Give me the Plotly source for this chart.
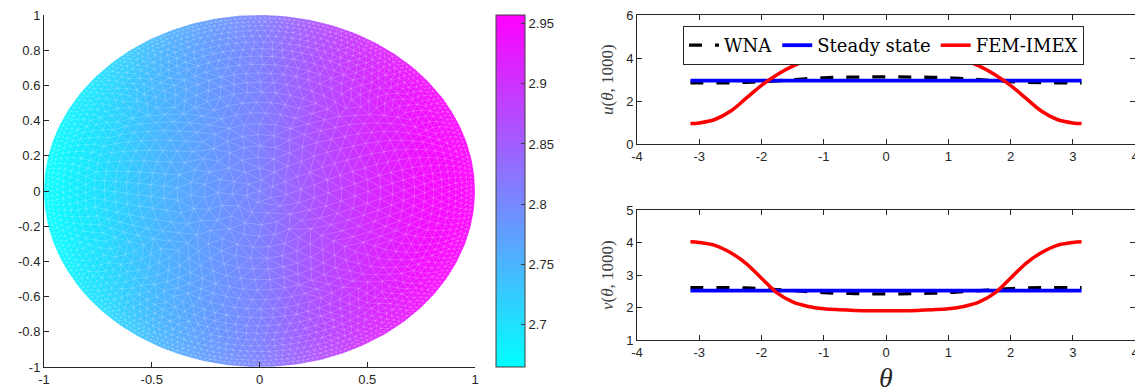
import numpy as np
import plotly.graph_objects as go

# ---------------- data ----------------
# Left panel: field value read along x (nearly constant in y)
field_x = [-1.0, -0.75, -0.5, -0.25, 0.0, 0.25, 0.5, 0.75, 1.0]
field_val = [2.665, 2.700, 2.744, 2.778, 2.810, 2.862, 2.907, 2.940, 2.957]
cbar_ticks = [2.7, 2.75, 2.8, 2.85, 2.9, 2.95]
cbar_labels = ["2.7", "2.75", "2.8", "2.85", "2.9", "2.95"]
left_xticks = [-1, -0.5, 0, 0.5, 1]
left_xlabels = ["-1", "-0.5", "0", "0.5", "1"]
left_yticks = [-1, -0.8, -0.6, -0.4, -0.2, 0, 0.2, 0.4, 0.6, 0.8, 1]
left_ylabels = ["-1", "-0.8", "-0.6", "-0.4", "-0.2", "0", "0.2", "0.4", "0.6", "0.8", "1"]

# Right panels
theta = [-3.1416, -3.0, -2.75, -2.5, -2.25, -2.0, -1.75, -1.5, -1.25, -1.0, -0.75, -0.5, -0.25, 0.0,
         0.25, 0.5, 0.75, 1.0, 1.25, 1.5, 1.75, 2.0, 2.25, 2.5, 2.75, 3.0, 3.1416]
u_fem = [0.95, 0.98, 1.14, 1.52, 2.12, 2.73, 3.22, 3.62, 3.90, 4.06, 4.13, 4.16, 4.17, 4.17,
         4.17, 4.16, 4.13, 4.06, 3.90, 3.62, 3.22, 2.73, 2.12, 1.52, 1.14, 0.98, 0.95]
u_wna = [2.84, 2.84, 2.84, 2.85, 2.87, 2.90, 2.94, 2.99, 3.04, 3.08, 3.10, 3.11, 3.12, 3.12,
         3.12, 3.11, 3.10, 3.08, 3.04, 2.99, 2.94, 2.90, 2.87, 2.85, 2.84, 2.84, 2.84]
v_fem = [4.02, 4.00, 3.91, 3.69, 3.36, 2.90, 2.45, 2.17, 2.03, 1.96, 1.93, 1.91, 1.90, 1.90,
         1.90, 1.91, 1.93, 1.96, 2.03, 2.17, 2.45, 2.90, 3.36, 3.69, 3.91, 4.00, 4.02]
v_wna = [2.61, 2.61, 2.61, 2.61, 2.60, 2.58, 2.55, 2.52, 2.49, 2.46, 2.44, 2.43, 2.42, 2.42,
         2.42, 2.43, 2.44, 2.46, 2.49, 2.52, 2.55, 2.58, 2.60, 2.61, 2.61, 2.61, 2.61]
theta_ss = [-3.1416, 3.1416]
u_ss = [2.95, 2.95]
v_ss = [2.52, 2.52]
right_xticks = [-4, -3, -2, -1, 0, 1, 2, 3, 4]
right_xlabels = ["-4", "-3", "-2", "-1", "0", "1", "2", "3", "4"]
u_yticks = [0, 2, 4, 6]
u_ylabels = ["0", "2", "4", "6"]
v_yticks = [1, 2, 3, 4, 5]
v_ylabels = ["1", "2", "3", "4", "5"]

# ---------------- geometry helpers ----------------
# the page body has an 8px margin: the figure is placed at (8, 8) in the window
OFF = 8
W, H = 1143 - OFF, 392 - OFF
def px_x(p):
    return (p - OFF) / W
def px_y(p):
    return (392 - p) / H

TICKFONT = dict(family="Liberation Sans, Arial, sans-serif", size=13, color="#262626")
SERIF = "DejaVu Serif, Liberation Serif, serif"
SERIF2 = "Liberation Serif, Times New Roman, serif"


def mesh_segments():
    def hsize(r):
        return 0.075 - 0.055 * r ** 3
    radii = [0.0]
    r = 0.0
    while r < 1.0:
        r += hsize(r) * 0.87
        radii.append(r)
    radii = np.array(radii) / radii[-1]
    rings = []
    for k, r in enumerate(radii):
        if k == 0:
            rings.append(np.array([0.0]))
            continue
        n = max(6, int(round(2 * np.pi * r / hsize(r))))
        off = ((k * 0.37) % 1.0) * 2 * np.pi / n
        rings.append(off + np.arange(n) * 2 * np.pi / n)
    xs, ys = [], []

    def seg(p, q):
        xs.extend([p[0], q[0], None])
        ys.extend([p[1], q[1], None])

    def pt(k, i):
        a = rings[k][i % len(rings[k])]
        return (radii[k] * np.cos(a), radii[k] * np.sin(a))

    for k in range(1, len(radii)):
        n = len(rings[k])
        for i in range(n):
            seg(pt(k, i), pt(k, i + 1))
        if k == 1:
            for i in range(n):
                seg((0.0, 0.0), pt(k, i))
            continue
        A = rings[k - 1]
        B = rings[k]
        na, nb = len(A), len(B)
        d = np.angle(np.exp(1j * (B - A[0])))
        j0 = int(np.argmin(np.abs(d)))

        def aa(i):
            return A[i % na] + 2 * np.pi * (i // na)

        def bb(j):
            jj = j + j0
            return B[jj % nb] + 2 * np.pi * (jj // nb)
        shift = round((bb(0) - aa(0)) / (2 * np.pi)) * 2 * np.pi
        i = j = 0
        while i < na or j < nb:
            seg(pt(k - 1, i), pt(k, j + j0))
            if i >= na:
                j += 1
            elif j >= nb:
                i += 1
            elif aa(i + 1) < bb(j + 1) - shift:
                i += 1
            else:
                j += 1
    return xs, ys


fig = go.Figure()

# field (heatmap, smoothed by plotly)
fig.add_trace(go.Heatmap(
    x=field_x, y=[-1.0, 1.0], z=[field_val, field_val],
    zsmooth="best", zmin=2.665, zmax=2.957,
    colorscale=[[0, "#00ffff"], [1, "#ff00ff"]],
    xaxis="x", yaxis="y", hoverinfo="skip",
    colorbar=dict(
        x=px_x(496), xanchor="left", xpad=0, ypad=0, xref="paper", yref="paper",
        y=px_y(367), yanchor="bottom", len=352 / H, lenmode="fraction",
        thickness=29, outlinewidth=1, outlinecolor="#404040",
        tickvals=cbar_ticks, ticktext=cbar_labels, ticks="inside",
        ticklen=4, tickcolor="#404040", tickfont=TICKFONT,
    ),
))

mx, my = mesh_segments()
fig.add_trace(go.Scatter(x=mx, y=my, mode="lines",
                         line=dict(color="rgba(255,255,255,0.32)", width=0.6),
                         xaxis="x", yaxis="y", hoverinfo="skip", showlegend=False))

# white mask outside the unit disk
t = np.linspace(0, 2 * np.pi, 400)
mask_x = list(np.cos(t)) + [1.3, 1.3, -1.3, -1.3, 1.3, 1.3]
mask_y = list(np.sin(t)) + [0.0, -1.3, -1.3, 1.3, 1.3, 0.0]
fig.add_trace(go.Scatter(x=mask_x, y=mask_y, mode="lines", fill="toself",
                         fillcolor="white", line=dict(width=0, color="white"),
                         xaxis="x", yaxis="y", hoverinfo="skip", showlegend=False))

# right panels
DASH = "13px,13px"
fig.add_trace(go.Scatter(x=theta, y=u_wna, mode="lines", name="WNA",
                         line=dict(color="black", width=3.3, dash=DASH, shape="spline"),
                         xaxis="x2", yaxis="y2"))
fig.add_trace(go.Scatter(x=theta_ss, y=u_ss, mode="lines", name="Steady state",
                         line=dict(color="#0000ff", width=3.8),
                         xaxis="x2", yaxis="y2"))
fig.add_trace(go.Scatter(x=theta, y=u_fem, mode="lines", name="FEM-IMEX",
                         line=dict(color="#ff0000", width=3.5, shape="spline"),
                         xaxis="x2", yaxis="y2"))
fig.add_trace(go.Scatter(x=theta, y=v_wna, mode="lines", showlegend=False,
                         line=dict(color="black", width=3.3, dash=DASH, shape="spline"),
                         xaxis="x3", yaxis="y3"))
fig.add_trace(go.Scatter(x=theta_ss, y=v_ss, mode="lines", showlegend=False,
                         line=dict(color="#0000ff", width=3.8),
                         xaxis="x3", yaxis="y3"))
fig.add_trace(go.Scatter(x=theta, y=v_fem, mode="lines", showlegend=False,
                         line=dict(color="#ff0000", width=3.5, shape="spline"),
                         xaxis="x3", yaxis="y3"))

axis_common = dict(showgrid=False, zeroline=False, showline=True, linecolor="#262626",
                   linewidth=1, ticks="inside", ticklen=5, tickcolor="#262626",
                   tickfont=TICKFONT, fixedrange=True, automargin=False,
                   ticklabeloverflow="allow")

RX = [px_x(637), px_x(1135)]

fig.update_layout(
    template="none",
    width=W, height=H, margin=dict(l=0, r=0, t=0, b=0, autoexpand=False),
    paper_bgcolor="white", plot_bgcolor="white",
    font=dict(family="Liberation Sans, Arial, sans-serif", color="#262626"),
    xaxis=dict(domain=[px_x(44), px_x(475)], range=[-1, 1], anchor="y",
               tickvals=left_xticks, ticktext=left_xlabels, **axis_common),
    yaxis=dict(domain=[px_y(367), px_y(15)], range=[-1, 1], anchor="x",
               tickvals=left_yticks, ticktext=left_ylabels, **axis_common),
    xaxis2=dict(domain=RX, range=[-4, 4], anchor="y2", mirror="ticks",
                tickvals=right_xticks, ticktext=right_xlabels, **axis_common),
    yaxis2=dict(domain=[px_y(144), px_y(15)], range=[0, 6], anchor="x2", mirror="ticks",
                tickvals=u_yticks, ticktext=u_ylabels, **axis_common),
    xaxis3=dict(domain=RX, range=[-4, 4], anchor="y3", mirror="ticks",
                tickvals=right_xticks, ticktext=right_xlabels, **axis_common),
    yaxis3=dict(domain=[px_y(340), px_y(210)], range=[1, 5], anchor="x3", mirror="ticks",
                tickvals=v_yticks, ticktext=v_ylabels, **axis_common),
    annotations=[
        dict(text="<i>u</i>(<i>θ</i>, 1000)", x=px_x(607), y=px_y(80), xref="paper", yref="paper",
             textangle=-90, showarrow=False, xanchor="center", yanchor="middle",
             font=dict(family=SERIF2, size=17, color="#404040")),
        dict(text="<i>v</i>(<i>θ</i>, 1000)", x=px_x(607), y=px_y(275), xref="paper", yref="paper",
             textangle=-90, showarrow=False, xanchor="center", yanchor="middle",
             font=dict(family=SERIF2, size=17, color="#404040")),
        dict(text="<i>θ</i>", x=px_x(886), y=px_y(377), xref="paper", yref="paper",
             showarrow=False, xanchor="center", yanchor="middle",
             font=dict(family=SERIF2, size=28, color="#262626")),
    ],
    legend=dict(orientation="h", x=px_x(683), y=px_y(26), xanchor="left", yanchor="top",
                bordercolor="#262626", borderwidth=1, bgcolor="white",
                font=dict(family=SERIF, size=18, color="black"),
                itemwidth=30, tracegroupgap=0),
    showlegend=True,
)

fig.write_html("out.html")
